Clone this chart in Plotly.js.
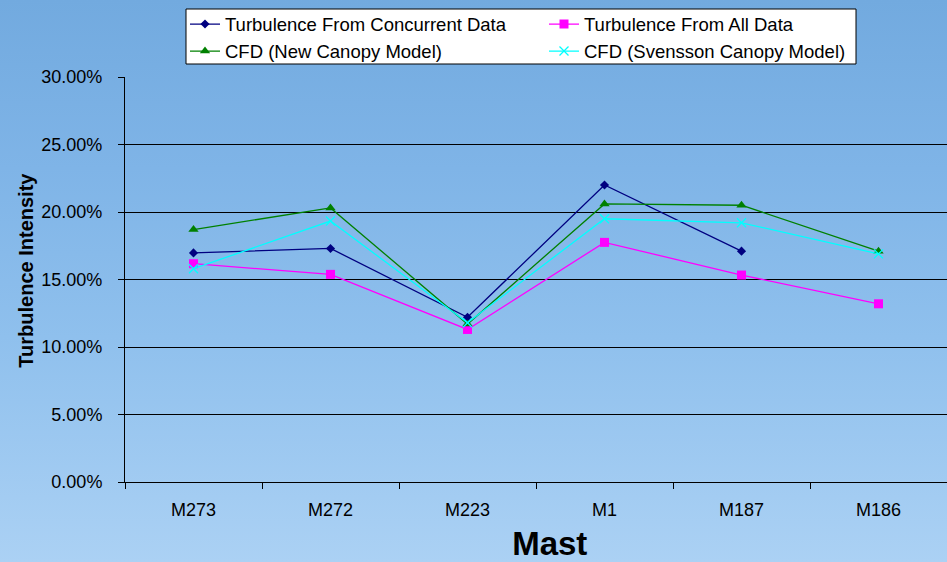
<!DOCTYPE html>
<html>
<head>
<meta charset="utf-8">
<script src="https://cdn.plot.ly/plotly-3.0.1.min.js"></script>
<style>
html,body{margin:0;padding:0;}
body{width:947px;height:562px;overflow:hidden;
background:linear-gradient(180deg,#72aadf 0%,#7fb4e7 30%,#8fc0ed 60%,#abd1f4 100%);}
#chart{width:947px;height:562px;}
</style>
</head>
<body>
<div id="chart"></div>
<script>
var masts = ["M273","M272","M223","M1","M187","M186"];
var concurrent = [0.1697, 0.1730, 0.1220, 0.2200, 0.1710, null];
var allData    = [0.1617, 0.1538, 0.1130, 0.1775, 0.1533, 0.1320];
var cfdNew     = [0.1870, 0.2030, 0.1170, 0.2060, 0.2050, 0.1710];
var cfdSvensson= [0.1580, 0.1933, 0.1180, 0.1950, 0.1920, 0.1690];

var F = "Liberation Sans, Arial, sans-serif";
var traces = [
  {name:"Turbulence From Concurrent Data", x:masts, y:concurrent, type:"scatter", mode:"lines+markers", legend:"legend",
   line:{color:"#000080", width:1.3}, marker:{symbol:"diamond", size:7, color:"#000080"}},
  {name:"Turbulence From All Data", x:masts, y:allData, type:"scatter", mode:"lines+markers", legend:"legend2",
   line:{color:"#ff00ff", width:1.3}, marker:{symbol:"square", size:9, color:"#ff00ff"}},
  {name:"CFD (New Canopy Model)", x:masts, y:cfdNew, type:"scatter", mode:"lines+markers", legend:"legend",
   line:{color:"#008000", width:1.3}, marker:{symbol:"triangle-up", size:9, color:"#008000"}},
  {name:"CFD (Svensson Canopy Model)", x:masts, y:cfdSvensson, type:"scatter", mode:"lines+markers", legend:"legend2",
   line:{color:"#00ffff", width:1.3}, marker:{symbol:"x-thin-open", size:9, color:"#00ffff", line:{color:"#00ffff", width:1.3}}}
];

function px2x(p){ return (p-125)/822; }
function px2y(p){ return 1 + (77-p)/405; }
var legFont = {family:F, size:18.5, color:"#000"};
var invis = function(s){ return "<span style='color:rgba(0,0,0,0)'>"+s+"</span>"; };

var layout = {
  width:947, height:562,
  paper_bgcolor:"rgba(0,0,0,0)", plot_bgcolor:"rgba(0,0,0,0)",
  margin:{l:125, r:0, t:77, b:80},
  font:{family:F, size:18, color:"#000"},
  showlegend:true,
  legend:{orientation:"v", x:px2x(185), y:px2y(5.5), xanchor:"left", yanchor:"top",
    bgcolor:"rgba(0,0,0,0)", borderwidth:0, font:legFont, traceorder:"normal", itemwidth:30, tracegroupgap:0},
  legend2:{orientation:"v", x:px2x(544), y:px2y(5.5), xanchor:"left", yanchor:"top",
    bgcolor:"rgba(0,0,0,0)", borderwidth:0, font:legFont, traceorder:"normal", itemwidth:30, tracegroupgap:0},
  shapes:[{type:"rect", xref:"paper", yref:"paper", x0:px2x(186), x1:px2x(856), y0:px2y(64), y1:px2y(9),
    fillcolor:"#ffffff", line:{color:"#000", width:1}, layer:"above"}],
  xaxis:{type:"category", range:[-0.5,5.5], showline:true, linecolor:"#000", linewidth:1,
    ticks:"outside", tickson:"boundaries", ticklen:6, tickcolor:"#000",
    showgrid:false, ticklabelstandoff:11, tickfont:{family:F, size:18},
    title:{text:invis("M")+"Mast", font:{family:F, size:33, weight:"bold"}, standoff:25},
    fixedrange:true},
  yaxis:{range:[0,0.30], dtick:0.05, tickformat:".2%", showline:true, linecolor:"#000", linewidth:1,
    ticks:"outside", ticklen:6, tickcolor:"#000", showgrid:true, gridcolor:"#000", gridwidth:1,
    zeroline:false, ticklabelstandoff:12, tickfont:{family:F, size:18},
    title:{text:invis("In")+"Turbulence Intensity", font:{family:F, size:20, weight:"bold"}, standoff:2},
    fixedrange:true}
};
Plotly.newPlot("chart", traces, layout, {displayModeBar:false, staticPlot:true});
</script>
</body>
</html>
